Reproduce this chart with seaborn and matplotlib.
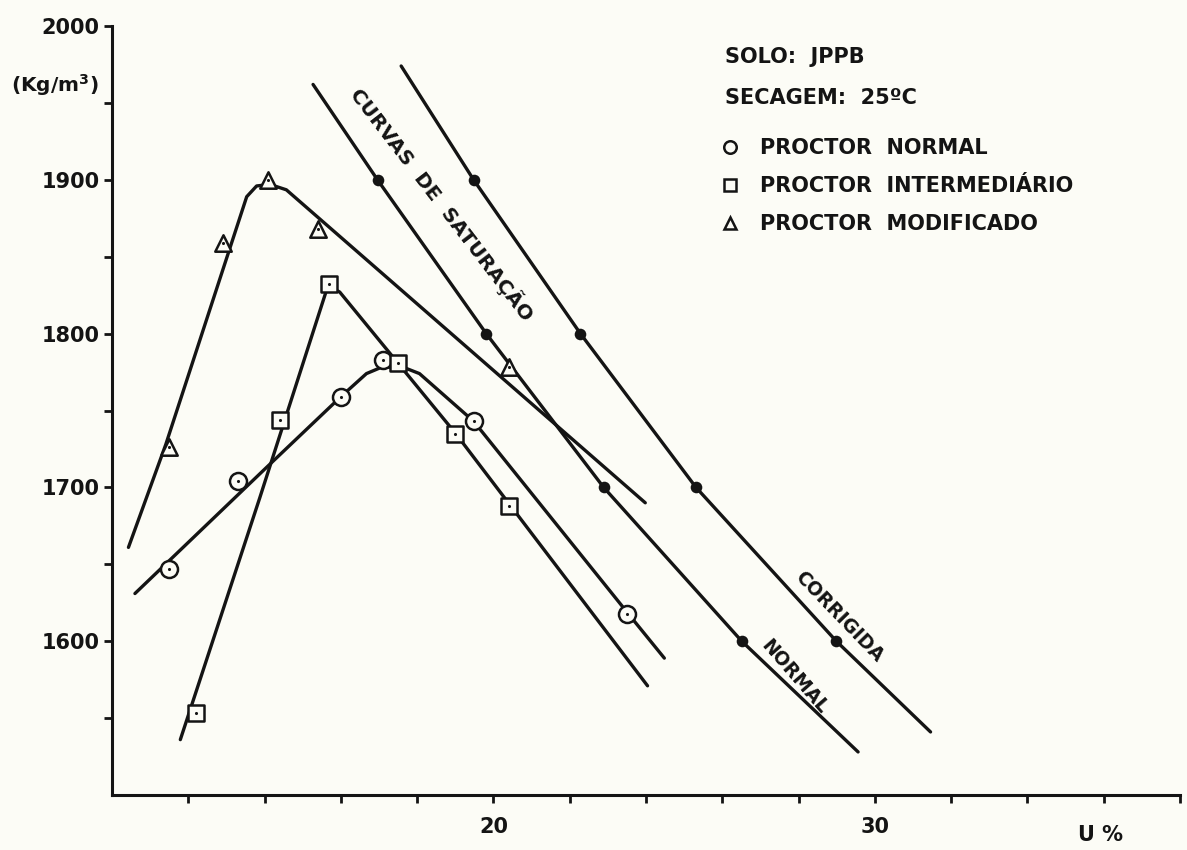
import matplotlib
matplotlib.use("Agg")
import matplotlib.pyplot as plt
from matplotlib.lines import Line2D
import seaborn as sns
import pandas as pd

# --- Measured compaction points (moisture U %, dry density kg/m3) ---
u_normal = [11.5, 13.3, 16.0, 17.1, 19.5, 23.5]
g_normal = [1647, 1704, 1759, 1783, 1743, 1618]

u_inter = [12.2, 14.4, 15.7, 17.5, 19.0, 20.4]
g_inter = [1553, 1744, 1832, 1781, 1735, 1688]

u_mod = [11.5, 12.9, 14.1, 15.4, 20.4]
g_mod = [1726, 1859, 1900, 1868, 1778]

# --- Hand-fitted compaction curves ---
curve_normal_u = [10.6, 14.05, 16.0, 16.67, 17.1, 17.7, 18.06, 19.48, 23.53, 24.48]
curve_normal_g = [1631, 1713, 1759, 1774, 1778.5, 1777.5, 1774, 1743, 1618, 1589]

curve_inter_u = [11.79, 13.87, 15.62, 15.79, 15.97, 19.01, 24.04]
curve_inter_g = [1536, 1693, 1828, 1829.5, 1827, 1735, 1571]

curve_mod_u = [10.43, 11.41, 13.53, 13.79, 14.14, 14.57, 23.98]
curve_mod_g = [1661, 1728, 1889, 1896, 1897, 1893.5, 1690]

# --- Saturation curves (normal and corrected) ---
sat_normal_u = [15.27, 16.96, 19.81, 22.89, 26.51, 29.56]
sat_normal_g = [1962, 1900, 1800, 1700, 1600, 1528]
sat_corr_u = [17.58, 19.48, 22.28, 25.31, 28.99, 31.46]
sat_corr_g = [1974, 1900, 1800, 1700, 1600, 1541]

y_ticks = [1550, 1600, 1650, 1700, 1750, 1800, 1850, 1900, 1950, 2000]
y_labels = ["", "1600", "", "1700", "", "1800", "", "1900", "", "2000"]
x_ticks = [12, 14, 16, 18, 20, 22, 24, 26, 28, 30, 32, 34, 36, 38]
x_labels = ["", "", "", "", "20", "", "", "", "", "30", "", "", "", ""]

sns.set_theme(style="white")
plt.rcParams["font.family"] = ["DejaVu Sans"]
plt.rcParams["mathtext.fontset"] = "dejavusans"

paper = "#fcfcf6"
ink = "#141414"

fig = plt.figure(figsize=(11.87, 8.5), dpi=100, facecolor=paper)
ax = fig.add_axes([0.0944, 0.0647, 0.8997, 0.9047])
ax.set_facecolor(paper)

lw = 2.4
curves = [
    (curve_normal_u, curve_normal_g),
    (curve_inter_u, curve_inter_g),
    (curve_mod_u, curve_mod_g),
    (sat_normal_u, sat_normal_g),
    (sat_corr_u, sat_corr_g),
]
for cu, cg in curves:
    sns.lineplot(x=cu, y=cg, sort=False, estimator=None, color=ink,
                 linewidth=lw, ax=ax)

# saturation reference dots (inner points of each curve)
sat_dots = pd.DataFrame({
    "u": sat_normal_u[1:-1] + sat_corr_u[1:-1],
    "g": sat_normal_g[1:-1] + sat_corr_g[1:-1],
})
sns.scatterplot(data=sat_dots, x="u", y="g", s=70, color=ink,
                edgecolor=ink, linewidth=0, ax=ax, zorder=4)

# open markers for the three compaction energies
series = [
    (u_normal, g_normal, "o", 150, "PROCTOR  NORMAL"),
    (u_inter, g_inter, "s", 140, "PROCTOR  INTERMEDIÁRIO"),
    (u_mod, g_mod, "^", 140, "PROCTOR  MODIFICADO"),
]
for su, sg, mk, sz, _ in series:
    sns.scatterplot(x=su, y=sg, marker=mk, s=sz, facecolor=paper,
                    edgecolor=ink, linewidth=1.8, ax=ax, zorder=5)
    sns.scatterplot(x=su, y=sg, marker="o", s=5, color=ink,
                    linewidth=0, ax=ax, zorder=6)

ax.set_xlim(10, 38)
ax.set_ylim(1500, 2000)
ax.set_xticks(x_ticks)
ax.set_xticklabels(x_labels)
ax.set_yticks(y_ticks)
ax.set_yticklabels(y_labels)
ax.set_xlabel("")
ax.set_ylabel("")

for side in ("top", "right"):
    ax.spines[side].set_visible(False)
for side in ("left", "bottom"):
    ax.spines[side].set_color(ink)
    ax.spines[side].set_linewidth(2.2)

ax.tick_params(axis="y", direction="out", length=6, width=2, color=ink,
               pad=3, left=True)
ax.tick_params(axis="x", direction="out", length=6, width=2, color=ink,
               pad=10, bottom=True)
for lab in ax.get_xticklabels() + ax.get_yticklabels():
    lab.set_fontsize(15)
    lab.set_fontweight("bold")
    lab.set_color(ink)

# axis captions
fig.text(55 / 1187, 1 - 85 / 850, r"(Kg/m$^{\mathbf{3}}$)", ha="center",
         va="center", fontsize=14.5, fontweight="bold", color=ink)
fig.text(1100 / 1187, 1 - 835 / 850, "U %", ha="center", va="center",
         fontsize=15, fontweight="bold", color=ink)

# labels along the saturation curves
ax.text(18.65, 1884, "CURVAS  DE  SATURAÇÃO", rotation=-52.5,
        rotation_mode="anchor", ha="center", va="center",
        fontsize=14.5, fontweight="bold", color=ink)
ax.text(29.06, 1616, "CORRIGIDA", rotation=-46, rotation_mode="anchor",
        ha="center", va="center",
        fontsize=13.5, fontweight="bold", color=ink)
ax.text(27.9, 1577, "NORMAL", rotation=-49, rotation_mode="anchor",
        ha="center", va="center",
        fontsize=13.5, fontweight="bold", color=ink)

# header and legend
fig.text(725 / 1187, 1 - 57 / 850, "SOLO:  JPPB", ha="left", va="center",
         fontsize=15, fontweight="bold", color=ink)
fig.text(725 / 1187, 1 - 98 / 850, "SECAGEM:  25ºC", ha="left", va="center",
         fontsize=15, fontweight="bold", color=ink)

handles = [
    Line2D([], [], linestyle="none", marker=mk, markersize=9,
           markerfacecolor=paper, markeredgecolor=ink, markeredgewidth=1.8,
           label=lab)
    for _, _, mk, _, lab in series
]
leg = fig.legend(handles=handles, loc="upper left",
                 bbox_to_anchor=(711 / 1187, 1 - 128 / 850),
                 frameon=False, handlelength=0.8, handletextpad=1.05,
                 labelspacing=0.85, borderpad=0,
                 prop=dict(size=15, weight="bold"))
for t in leg.get_texts():
    t.set_color(ink)

fig.savefig("out.png", dpi=100, facecolor=paper)
